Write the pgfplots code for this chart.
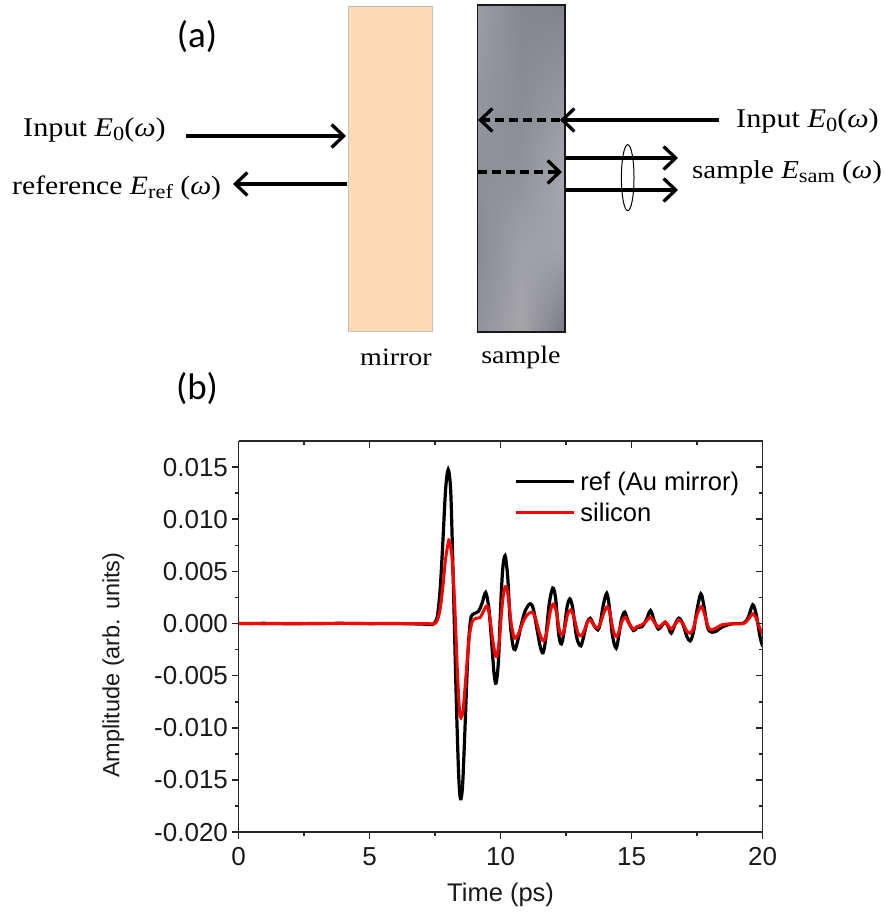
\documentclass[border=0pt]{standalone}
\usepackage{pgfplots}
\pgfplotsset{compat=1.18}
\usepackage{fontspec}
\setmainfont{Liberation Sans}
\newfontfamily\serifx[FakeStretch=1.12]{Liberation Serif}
\newfontfamily\calib{Carlito}
\usetikzlibrary{arrows.meta,shadings}
\definecolor{mirrorfill}{HTML}{FDD9B6}
\definecolor{mirroredge}{HTML}{BFC0C2}
\pgfplotstableread{
t a
0 0.00000
1 0.00002
2 -0.00002
3 0.00001
4 0.00002
5 -0.00001
6 0.00000
7 -0.00005
7.4 -0.0001
7.5 0.0001
7.6 0.0009
7.7 0.0035
7.8 0.0080
7.9 0.0128
8.0 0.01475
8.1 0.0125
8.2 0.0035
8.3 -0.0065
8.4 -0.0145
8.47 -0.0168
8.55 -0.0155
8.65 -0.0095
8.75 -0.003
8.85 0.0003
8.95 0.0009
9.15 0.00115
9.3 0.002
9.43 0.00298
9.55 0.0015
9.65 -0.0015
9.75 -0.0048
9.83 -0.0057
9.92 -0.0035
10.0 0.0015
10.08 0.0052
10.17 0.0065
10.27 0.0045
10.37 0.0
10.47 -0.0021
10.55 -0.0025
10.65 -0.0017
10.8 0.0
10.95 0.0013
11.13 0.0019
11.25 0.0014
11.4 -0.0007
11.52 -0.0023
11.62 -0.0028
11.72 -0.0015
11.85 0.0018
11.99 0.0034
12.1 0.0024
12.22 -0.0011
12.32 -0.00195
12.42 -0.0008
12.53 0.0015
12.64 0.00237
12.75 0.0015
12.9 -0.0013
13.06 -0.00214
13.2 -0.0009
13.3 0.0001
13.42 0.0005
13.57 -0.0002
13.71 -0.0006
13.8 0.0
13.92 0.0018
14.05 0.0029
14.15 0.0016
14.27 -0.0012
14.41 -0.00236
14.52 -0.0010
14.62 0.0005
14.74 0.0011
14.87 0.0002
15.07 -0.00067
15.2 -0.0004
15.39 -0.0003
15.55 0.0003
15.72 0.00125
15.87 0.0002
16.02 -0.00054
16.15 -0.0002
16.28 0.00013
16.4 -0.0003
16.51 -0.00092
16.65 -0.0001
16.8 0.00052
16.95 0.0
17.1 -0.0012
17.23 -0.00166
17.35 -0.0009
17.5 0.0014
17.64 0.00285
17.75 0.0018
17.9 -0.0004
18.06 -0.00083
18.25 -0.0007
18.44 -0.00035
18.82 -0.00003
19.27 0.00004
19.45 0.0006
19.62 0.0018
19.75 0.0009
19.9 -0.0013
20 -0.0022
}\refdata
\pgfplotstableread{
t a
0 0.00001
1 -0.00002
2 0.00002
3 -0.00001
4 0.00001
5 0.00002
6 -0.00001
7 0.00000
7.4 -0.00003
7.5 0.0000
7.6 0.0004
7.7 0.0015
7.8 0.0036
7.9 0.0062
8.0 0.0077
8.05 0.00797
8.15 0.0062
8.25 0.0018
8.35 -0.0045
8.43 -0.0083
8.49 -0.00902
8.57 -0.0083
8.67 -0.0053
8.8 -0.0014
8.92 0.0002
9.09 0.00052
9.22 0.00058
9.35 0.0012
9.48 0.0017
9.58 0.0008
9.68 -0.0012
9.78 -0.0028
9.85 -0.00317
9.95 -0.0017
10.03 0.0009
10.12 0.0030
10.21 0.00355
10.3 0.0024
10.4 0.0001
10.5 -0.0012
10.56 -0.0014
10.68 -0.0010
10.85 0.0001
11.0 0.0008
11.19 0.0011
11.32 0.0006
11.47 -0.0008
11.58 -0.0015
11.66 -0.00163
11.77 -0.0007
11.9 0.0012
12.01 0.00186
12.12 0.0012
12.25 -0.0007
12.35 -0.00108
12.45 -0.0004
12.56 0.0009
12.68 0.00131
12.8 0.0006
12.95 -0.0009
13.08 -0.00118
13.22 -0.0005
13.33 0.0002
13.43 0.00035
13.57 -0.0002
13.7 -0.00044
13.82 0.0001
13.95 0.0011
14.08 0.00163
14.18 0.0009
14.3 -0.0007
14.43 -0.00125
14.55 -0.0005
14.65 0.0003
14.76 0.0006
14.88 0.0001
15.07 -0.00054
15.2 -0.0003
15.39 -0.00012
15.55 0.0002
15.72 0.0006
15.87 0.0001
16.02 -0.00035
16.15 -0.0001
16.28 0.00013
16.4 -0.0002
16.51 -0.00054
16.65 -0.0001
16.8 0.00035
16.95 0.0
17.1 -0.0007
17.23 -0.00092
17.35 -0.0005
17.5 0.0009
17.66 0.00163
17.78 0.0009
17.92 -0.0003
18.03 -0.0006
18.25 -0.0004
18.44 -0.00012
18.82 -0.00002
19.27 0.00000
19.45 0.0004
19.62 0.00093
19.75 0.0005
19.9 -0.0005
20 -0.0010
}\sidata
\begin{document}
\begin{tikzpicture}
\useasboundingbox (0pt,0pt) rectangle (884pt,915pt);
\begin{axis}[
  at={(238.5pt,82.8pt)},anchor=south west,
  width=524.2pt,height=391.2pt,scale only axis,
  xmin=0,xmax=20,ymin=-0.02,ymax=0.0175,
  axis x line*=bottom,axis y line*=left,
  axis line style={line width=1.5pt,black!85,-},
  xtick={0,5,10,15,20},ytick={-0.02,-0.015,-0.01,-0.005,0,0.005,0.01,0.015},
  minor xtick={2.5,7.5,12.5,17.5},minor ytick={-0.0175,-0.0125,-0.0075,-0.0025,0.0025,0.0075,0.0125},
  tick align=outside,
  tick style={line width=1.5pt,black!85},
  major tick length=7pt,minor tick length=4pt,
  scaled y ticks=false,
  yticklabel style={/pgf/number format/fixed,/pgf/number format/fixed zerofill,/pgf/number format/precision=3,/pgf/number format/assume math mode=true},
  xticklabel style={/pgf/number format/assume math mode=true,yshift=-5pt},
  tick label style={font=\fontsize{26}{28}\selectfont,text=black!90},
  xlabel={Time (ps)},ylabel={Amplitude (arb. units)},
  xlabel style={font=\fontsize{25.5}{28}\selectfont,text=black!90,at={(axis description cs:0.5,-0.161)},anchor=center},
  ylabel style={font=\fontsize{23.5}{26}\selectfont,text=black!90,at={(axis description cs:-0.239,0.427)},anchor=center},
  legend cell align=left,
  legend style={draw=none,fill=none,at={(axis cs:10.53,0.01455)},anchor=north west,
    font=\fontsize{25.5}{28}\selectfont,inner sep=0pt,outer sep=0pt,row sep=11pt,nodes={inner sep=0pt}},
  legend image code/.code={\draw[#1,line width=3pt] (0pt,0pt)--(58pt,0pt);},
]
\addplot[black,line width=3.2pt,smooth] table[x=t,y=a] {\refdata};
\addlegendentry{\hspace{5pt}ref (Au mirror)}
\addplot[red,line width=3pt,smooth] table[x=t,y=a] {\sidata};
\addlegendentry{\hspace{5pt}silicon}
\end{axis}
\begin{axis}[
  at={(238.5pt,82.8pt)},anchor=south west,
  width=524.2pt,height=391.2pt,scale only axis,
  xmin=0,xmax=20,ymin=-0.02,ymax=0.0175,
  axis x line*=top,axis y line*=right,
  axis line style={line width=1.5pt,black!85,-},
  xtick={0,5,10,15,20},ytick={-0.02,-0.015,-0.01,-0.005,0,0.005,0.01,0.015},
  minor xtick={2.5,7.5,12.5,17.5},minor ytick={-0.0175,-0.0125,-0.0075,-0.0025,0.0025,0.0075,0.0125},
  tick align=inside,
  tick style={line width=1.5pt,black!85},
  major tick length=7pt,minor tick length=4pt,
  xticklabels={},yticklabels={},scaled y ticks=false,
]
\end{axis}
\begin{scope}[x=1pt,y=-1pt,yshift=915pt,
  >={Straight Barb[length=12pt,width=23pt,line width=3.3pt]}]
  % mirror
  \draw[mirroredge,fill=mirrorfill,line width=0.9pt] (348,6) rectangle (432,331);
  % sample: bilinear patches
  \definecolor{g11}{HTML}{9C9EA4}\definecolor{g12}{HTML}{85878F}\definecolor{g13}{HTML}{82848C}
  \definecolor{g21}{HTML}{8E9098}\definecolor{g22}{HTML}{8F9199}\definecolor{g23}{HTML}{A6A7AE}
  \definecolor{g31}{HTML}{888A92}\definecolor{g32}{HTML}{A0A1A8}\definecolor{g33}{HTML}{A2A3A9}
  \definecolor{g41}{HTML}{92939A}\definecolor{g42}{HTML}{A5A5A9}\definecolor{g43}{HTML}{787A82}
  \shade[shading=bilinear interpolation,upper left=g11,upper right=g12,lower left=g21,lower right=g22] (477.5,5) rectangle (521.5,170);
  \shade[shading=bilinear interpolation,upper left=g12,upper right=g13,lower left=g22,lower right=g23] (521,5) rectangle (565,170);
  \shade[shading=bilinear interpolation,upper left=g21,upper right=g22,lower left=g31,lower right=g32] (477.5,169.5) rectangle (521.5,250);
  \shade[shading=bilinear interpolation,upper left=g22,upper right=g23,lower left=g32,lower right=g33] (521,169.5) rectangle (565,250);
  \shade[shading=bilinear interpolation,upper left=g31,upper right=g32,lower left=g41,lower right=g42] (477.5,249.5) rectangle (521.5,332);
  \shade[shading=bilinear interpolation,upper left=g32,upper right=g33,lower left=g42,lower right=g43] (521,249.5) rectangle (565,332);
  \draw[black!90,line width=1.5pt] (477.5,5) rectangle (565,332);
  % arrows
  \draw[->,line width=3.3pt] (186,136)--(346,136);
  \draw[->,line width=3.3pt] (347,184)--(233,184);
  \draw[line width=3.3pt] (719,120)--(562,120);
  \draw[->,line width=3.3pt] (600,120)--(560,120);
  \draw[->,line width=3.3pt,dash pattern=on 9pt off 5pt] (560,120)--(478,120);
  \draw[->,line width=3.3pt,dash pattern=on 9pt off 5pt] (478,172)--(562,172);
  \draw[->,line width=3.3pt] (565,158)--(678,158);
  \draw[->,line width=3.3pt] (565,190)--(678,190);
  \draw[line width=1pt] (627.7,177.7) ellipse [x radius=6.3,y radius=33];
  % text
  \tikzset{lab/.style={inner sep=0pt,anchor=base west,font=\serifx\fontsize{27}{30}\selectfont}}
  \newcommand{\sub}[1]{\raisebox{-4pt}{\fontsize{20}{22}\selectfont #1}}
  \node[lab] at (23,137) {Input \textit{E}\sub{0}(\textit{ω})};
  \node[lab,font=\serifx\fontsize{26.5}{30}\selectfont] at (12,195) {reference \textit{E}\sub{ref} (\textit{ω})};
  \node[lab] at (736,128) {Input \textit{E}\sub{0}(\textit{ω})};
  \node[lab,font=\serifx\fontsize{25.8}{30}\selectfont] at (692,179) {sample \textit{E}\sub{sam} (\textit{ω})};
  \node[inner sep=0pt,anchor=base,font=\serifx\fontsize{25}{28}\selectfont] at (396,366) {mirror};
  \node[inner sep=0pt,anchor=base,font=\serifx\fontsize{25}{28}\selectfont] at (521,364) {sample};
  \node[inner sep=0pt,anchor=base,font=\calib\fontsize{37}{40}\selectfont] at (197,48) {(a)};
  \node[inner sep=0pt,anchor=base,font=\calib\fontsize{37}{40}\selectfont] at (197,400) {(b)};
\end{scope}
\end{tikzpicture}
\end{document}
